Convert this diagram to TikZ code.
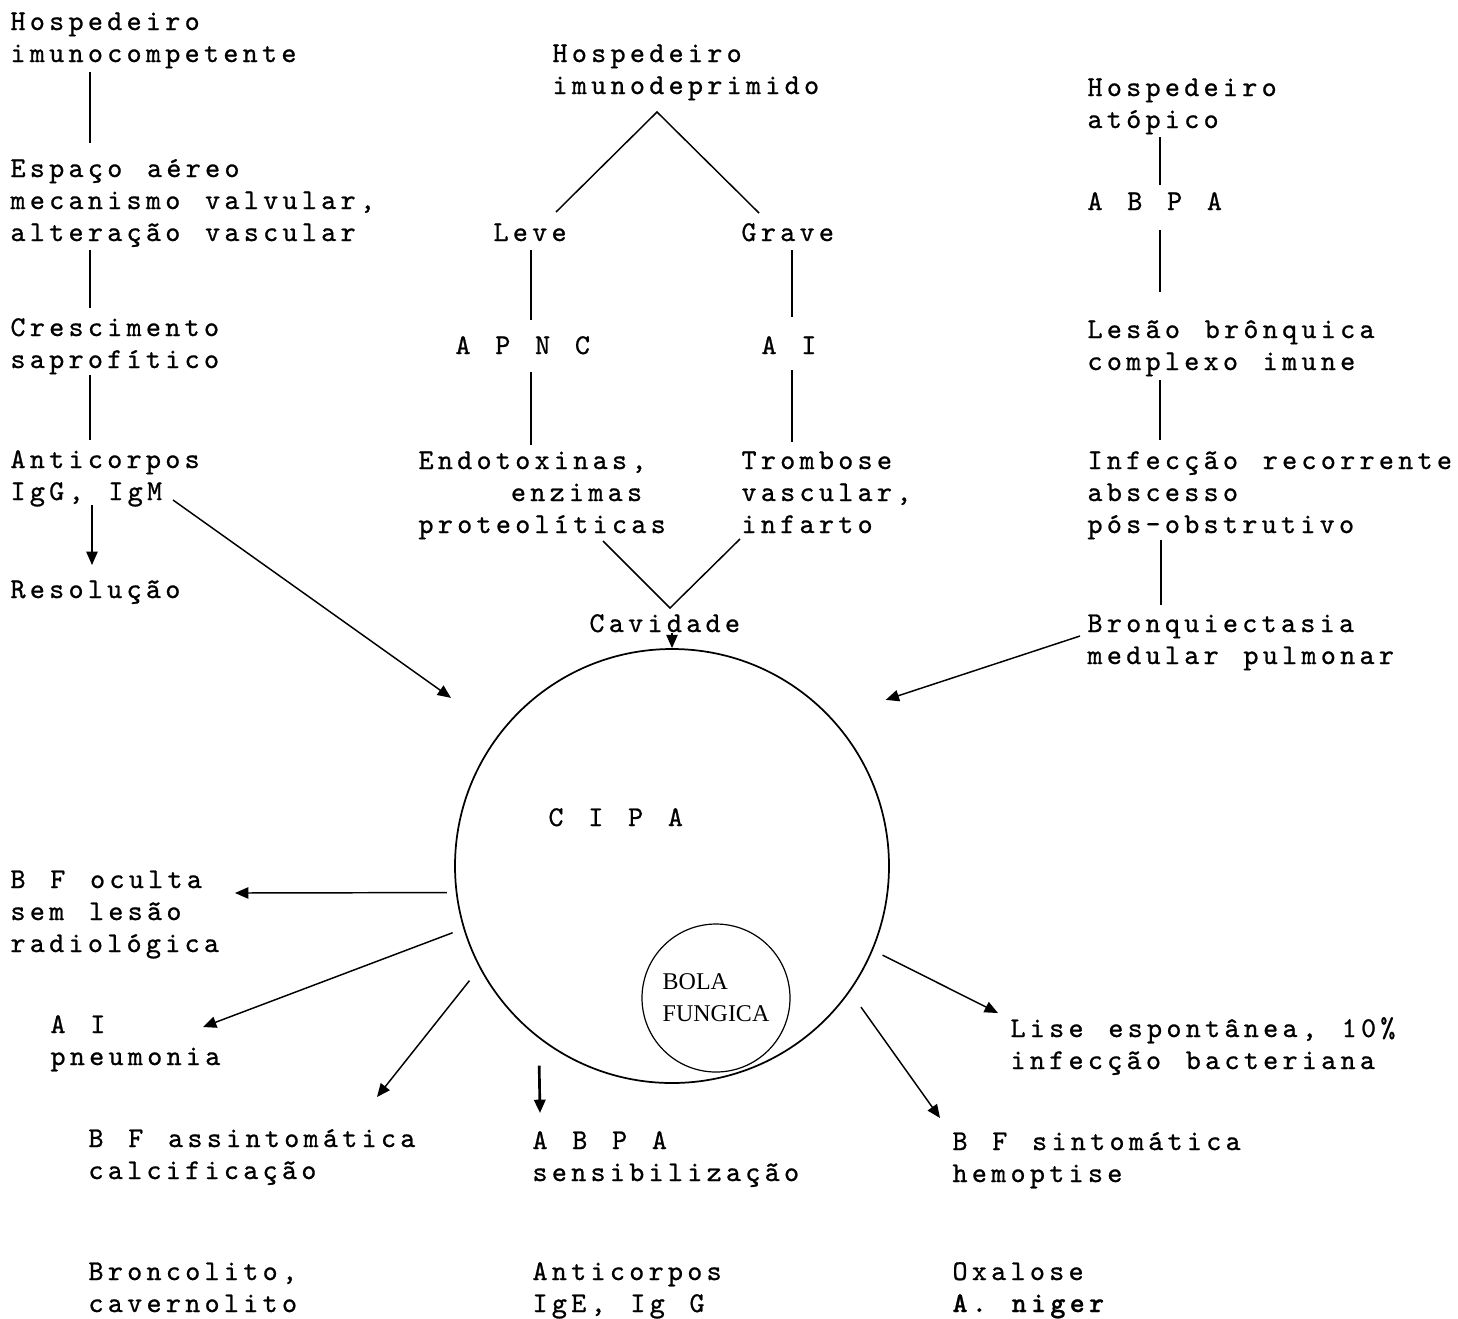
\documentclass[tikz,border=0pt]{standalone}
\usepackage{fontspec}
\usetikzlibrary{arrows.meta}
\newfontfamily\tw{lmmono10-regular.otf}[LetterSpace=15,WordSpace=1.28,FakeBold=0.8,BoldFont=lmmonolt10-bold.otf]
\newfontfamily\bolafont{Liberation Serif}

\tikzset{every picture/.style={line width=0.75pt}}
\tikzset{
  lbl/.style={anchor=base west, inner sep=0pt, align=left, font={\tw\fontsize{21.5pt}{24pt}\selectfont}},
  link/.style={line width=1.7pt},
  wedge/.style={line width=1.1pt},
  arr/.style={line width=1.1pt, -{Triangle[length=10pt,width=8.5pt]}},
}

\begin{document}
\begin{tikzpicture}[x=0.75pt,y=0.75pt,yscale=-1,xscale=1]
\useasboundingbox (0,0) rectangle (1458,1318);

% Text Node
    \node [lbl] (hic) at (10,62) {Hospedeiro\\imunocompetente};
% Text Node
    \node [lbl] (esp) at (10,241) {Espaço aéreo\\mecanismo valvular,\\alteração vascular};
% Text Node
    \node [lbl] (cres) at (10,368) {Crescimento\\saprofítico};
% Text Node
    \node [lbl] (antgm) at (10,500) {Anticorpos\\IgG, IgM};
% Text Node
    \node [lbl] (reso) at (10,598) {Resolução};
% Text Node
    \node [lbl] (hid) at (552,94) {Hospedeiro\\imunodeprimido};
% Text Node
    \node [lbl] (leve) at (493,241) {Leve};
% Text Node
    \node [lbl] (grave) at (741,241) {Grave};
% Text Node
    \node [lbl] (apnc) at (455,354) {A P N C};
% Text Node
    \node [lbl] (ai) at (761,354) {A I};
% Text Node
    \node [lbl] (endo) at (418,533) {Endotoxinas,\\\phantom{xxxxx}enzimas\\proteolíticas};
% Text Node
    \node [lbl] (tromb) at (741,533) {Trombose\\vascular,\\infarto};
% Text Node
    \node [lbl] (cav) at (589,632) {Cavidade};
% Text Node
    \node [lbl] (hat) at (1087,128) {Hospedeiro\\atópico};
% Text Node
    \node [lbl] (abpa) at (1087,210) {A B P A};
% Text Node
    \node [lbl] (lesao) at (1087,370) {Lesão brônquica\\complexo imune};
% Text Node
    \node [lbl] (infec) at (1087,533) {Infecção recorrente\\abscesso\\pós-obstrutivo};
% Text Node
    \node [lbl] (bronq) at (1087,664) {Bronquiectasia\\medular pulmonar};

%Shape: Circle
    \node [draw, circle, line width=1.3pt, inner sep=0pt, minimum size=325.5pt] (cipa) at (672,866) {};
% Text Node
    \node [lbl] (cipat) at (548,826) {C I P A};
%Shape: Circle
    \node [draw, circle, line width=0.9pt, inner sep=0pt, minimum size=111pt, align=left, font={\bolafont\fontsize{18pt}{24pt}\selectfont}] (bola) at (716,998) {BOLA\\FUNGICA};

% Text Node
    \node [lbl] (bfo) at (10,952) {B F oculta\\sem lesão\\radiológica};
% Text Node
    \node [lbl] (aip) at (50,1065) {A I\\pneumonia};
% Text Node
    \node [lbl] (bfa) at (88,1179) {B F assintomática\\calcificação};
% Text Node
    \node [lbl] (abps) at (532,1181) {A B P A\\sensibilização};
% Text Node
    \node [lbl] (bfs) at (952,1182) {B F sintomática\\hemoptise};
% Text Node
    \node [lbl] (lise) at (1010,1069) {Lise espontânea, 10\%\\infecção bacteriana};
% Text Node
    \node [lbl] (bron) at (88,1312) {Broncolito,\\cavernolito};
% Text Node
    \node [lbl] (antge) at (532,1312) {Anticorpos\\IgE, Ig G};
% Text Node
    \node [lbl] (oxa) at (952,1312) {Oxalose\\\textbf{A. niger}};

%Straight Lines
    \draw [link] ([shift={(80,10)}]hic.base west) -- ([shift={(80,-98)}]esp.base west) ;
    \draw [link] ([shift={(80,9)}]esp.base west) -- ([shift={(80,-60)}]cres.base west) ;
    \draw [link] ([shift={(80,7)}]cres.base west) -- ([shift={(80,-60)}]antgm.base west) ;
    \draw [arr] ([shift={(82,5)}]antgm.base west) -- ([shift={(82,-33)}]reso.base west) ;
    \draw [arr] ([shift={(163,0)}]antgm.base west) -- ([shift={(-47,-37)}]cipa.143) ;

%Straight Lines
    \draw [wedge] ([shift={(63,-29)}]leve.base west) -- ([shift={(105,18)}]hid.base west) -- ([shift={(18,-28)}]grave.base west) ;
    \draw [link] ([shift={(38,9)}]leve.base west) -- ([shift={(76,-34)}]apnc.base west) ;
    \draw [link] ([shift={(76,18)}]apnc.base west) -- ([shift={(113,-88)}]endo.base west) ;
    \draw [link] ([shift={(51,9)}]grave.base west) -- ([shift={(31,-37)}]ai.base west) ;
    \draw [link] ([shift={(31,16)}]ai.base west) -- ([shift={(51,-91)}]tromb.base west) ;
    \draw [wedge] ([shift={(185,8)}]endo.base west) -- ([shift={(81,-24)}]cav.base west) -- ([shift={(-1,6)}]tromb.base west) ;
    \draw [arr] (cav.south -| cipa.north) -- (cipa.north) ;

%Straight Lines
    \draw [link] ([shift={(73,9)}]hat.base west) -- ([shift={(73,-25)}]abpa.base west) ;
    \draw [link] ([shift={(73,20)}]abpa.base west) -- ([shift={(73,-78)}]lesao.base west) ;
    \draw [link] ([shift={(73,10)}]lesao.base west) -- ([shift={(73,-93)}]infec.base west) ;
    \draw [link] ([shift={(74,7)}]infec.base west) -- ([shift={(74,-59)}]bronq.base west) ;
    \draw [arr] ([shift={(-7,-28)}]bronq.base west) -- ([shift={(42,-32)}]cipa.38) ;

%Straight Lines
    \draw [arr] ([shift={(-9,0)}]cipa.187) -- ([shift={(225,-59)}]bfo.base west) ;
    \draw [arr] ([shift={(-11,3)}]cipa.197) -- ([shift={(153,-38)}]aip.base west) ;
    \draw [arr] ([shift={(-12,9)}]cipa.209) -- ([shift={(289,-82)}]bfa.base west) ;
    \draw [arr, line width=2pt] ([shift={(-11,19)}]cipa.236) -- ([shift={(8,-68)}]abps.base west) ;
    \draw [arr] ([shift={(15,10)}]cipa.323) -- ([shift={(-12,-64)}]bfs.base west) ;
    \draw [arr] ([shift={(10,4)}]cipa.337) -- ([shift={(-12,-56)}]lise.base west) ;

\end{tikzpicture}
\end{document}
